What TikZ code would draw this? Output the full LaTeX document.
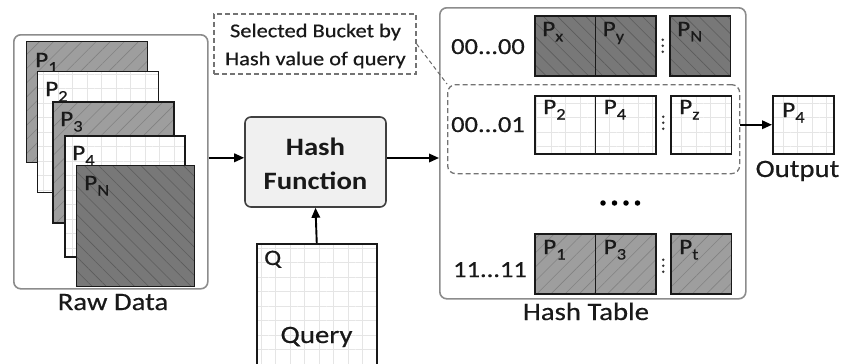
\documentclass[tikz,border=0pt]{standalone}
\usepackage{fontspec}
\setmainfont{Carlito}[FakeStretch=1.15, UprightFeatures={FakeBold=0.5}]
\usetikzlibrary{arrows.meta,patterns.meta,calc}

% text sizes
\newcommand\bigtxt{\fontsize{25}{30}\selectfont}
\newcommand\rowtxt{\fontsize{23}{28}\selectfont}
\newcommand\notetxt{\fontsize{19.5}{28}\selectfont}
\newcommand\ptxt{\fontsize{22}{26}\selectfont}
\newcommand\pg[1]{P\raisebox{-5.5pt}{\fontsize{16}{16}\selectfont #1}}

\tikzset{
  groupbox/.style={draw=black!45, line width=1.6pt, rounded corners=7pt, fill=white, anchor=north west, inner sep=0pt},
  pagebox/.style={draw=black!90, line width=1.5pt, anchor=north west, inner sep=0pt},
  lightpage/.style={pagebox, preaction={fill=white}, pattern={Hatch[angle=0,distance=14.5pt,line width=0.5pt]}, pattern color=black!10},
  graypage/.style={pagebox, preaction={fill=black!38}, pattern={Lines[angle=45,distance=10pt,line width=0.6pt]}, pattern color=black!49},
  darkpage/.style={pagebox, preaction={fill=black!53}, pattern={Lines[angle=-45,distance=10pt,line width=0.6pt]}, pattern color=black!64},
  plabel/.style={anchor=base west, inner sep=0pt, font=\ptxt, text=black!90},
  txt/.style={inner sep=0pt, text=black!90},
  arr/.style={line width=1.9pt, -{Triangle[length=10pt,width=8.5pt]}},
  dashbox/.style={draw=black!55, line width=1.3pt, dash pattern=on 5pt off 3pt},
  vdot/.style={circle, fill=black!80, inner sep=0pt, minimum size=2.6pt},
  bdot/.style={circle, fill=black, inner sep=0pt, minimum size=5.5pt},
}

\begin{document}
\begin{tikzpicture}[x=1pt,y=-1pt]
\useasboundingbox (0,0) rectangle (844,364);
\clip (0,0) rectangle (844,364);

% ---------- raw data stack ----------
\node[groupbox, minimum width=194pt, minimum height=254pt] (raw) at (13,34) {};
\node[graypage, minimum width=121pt, minimum height=121pt] (p1) at (26,41) {};
\node[plabel] (p1l) at ($(p1.north west)+(9,26)$) {\pg{1}};
\node[lightpage, minimum width=121pt, minimum height=121pt] (p2) at (37,71) {};
\node[plabel] (p2l) at ($(p2.north west)+(8,25)$) {\pg{2}};
\node[graypage, minimum width=121pt, minimum height=121pt] (p3) at (52,101) {};
\node[plabel] (p3l) at ($(p3.north west)+(8,25)$) {\pg{3}};
\node[lightpage, minimum width=120pt, minimum height=121pt] (p4) at (64,135) {};
\node[plabel] (p4l) at ($(p4.north west)+(8,25)$) {\pg{4}};
\node[darkpage, minimum width=118pt, minimum height=121pt] (pn) at (76,165) {};
\node[plabel] (pnl) at ($(pn.north west)+(8,25)$) {\pg{N}};
\node[txt, anchor=base, font=\bigtxt] (rawl) at (113,310) {Raw Data};

% ---------- hash function and query ----------
\node[draw=black!75, line width=1.6pt, rounded corners=6pt, fill=black!6,
      minimum width=141pt, minimum height=90pt, inner sep=0pt] (hash) at (315.5,162) {};
\node[txt, align=center, font=\bigtxt\bfseries] (hashl) at (315.5,164) {Hash\\[4pt]Function};

\node[lightpage, minimum width=120pt, minimum height=125pt] (query) at (256,243) {};
\node[txt, anchor=base west, font=\ptxt] (ql) at ($(query.north west)+(8,22)$) {Q};
\node[txt, anchor=base, font=\bigtxt] (queryl) at (316.5,343) {Query};

% ---------- callout ----------
\node[dashbox, fill=white, minimum width=202pt, minimum height=60pt, inner sep=0pt] (note) at (315,44) {};
\node[txt, align=center, font=\notetxt] (notel) at (315.5,46) {Selected Bucket by\\Hash value of query};

% ---------- hash table ----------
\node[groupbox, minimum width=306pt, minimum height=291pt] (table) at (439,7) {};
\node[txt, anchor=base, font=\bigtxt] (tablel) at (586,320) {Hash Table};

% bucket 00...00
\node[txt, anchor=base, font=\rowtxt] (k1) at (488,54) {00...00};
\node[darkpage, minimum width=60.5pt, minimum height=60pt] (a1) at (534,15) {};
\node[plabel] at ($(a1.north west)+(8,21)$) {\pg{x}};
\node[darkpage, minimum width=60.5pt, minimum height=60pt] (a2) at (594.5,15) {};
\node[plabel] at ($(a2.north west)+(8,21)$) {\pg{y}};
\node[darkpage, minimum width=60.5pt, minimum height=60pt] (a3) at (669,15) {};
\node[plabel] at ($(a3.north west)+(8,21)$) {\pg{N}};
\foreach \d in {-6,0,6} \node[vdot] at ($(a2.east)!0.5!(a3.west)+(0,\d)$) {};

% bucket 00...01 (selected)
\node[dashbox, rounded corners=8pt, minimum width=292pt, minimum height=89pt, anchor=north west] (bucket) at (447,84) {};
\node[txt, anchor=base, font=\rowtxt] (k2) at (488,132) {00...01};
\node[lightpage, minimum width=60.5pt, minimum height=58pt] (b1) at (534,95) {};
\node[plabel] at ($(b1.north west)+(9,19)$) {\pg{2}};
\node[lightpage, minimum width=60.5pt, minimum height=58pt] (b2) at (594.5,95) {};
\node[plabel] at ($(b2.north west)+(9,19)$) {\pg{4}};
\node[lightpage, minimum width=60.5pt, minimum height=58pt] (b3) at (670,95) {};
\node[plabel] at ($(b3.north west)+(9,19)$) {\pg{z}};
\foreach \d in {-6,0,6} \node[vdot] at ($(b2.east)!0.5!(b3.west)+(0,\d-2)$) {};

% more buckets
\foreach \x in {603,614.5,626,637.5} \node[bdot] at (\x,203) {};

% bucket 11...11
\node[txt, anchor=base, font=\rowtxt] (k3) at (490,277) {11...11};
\node[graypage, minimum width=60.5pt, minimum height=60pt] (c1) at (534,233) {};
\node[plabel] at ($(c1.north west)+(9,21)$) {\pg{1}};
\node[graypage, minimum width=60.5pt, minimum height=60pt] (c2) at (594.5,233) {};
\node[plabel] at ($(c2.north west)+(9,21)$) {\pg{3}};
\node[graypage, minimum width=60.5pt, minimum height=60pt] (c3) at (670,233) {};
\node[plabel] at ($(c3.north west)+(9,21)$) {\pg{t}};
\foreach \d in {-6,0,6} \node[vdot] at ($(c2.east)!0.5!(c3.west)+(0,\d+2)$) {};

% ---------- output ----------
\node[lightpage, minimum width=61pt, minimum height=58pt] (out) at (772,95) {};
\node[plabel] at ($(out.north west)+(10,22)$) {\pg{4}};
\node[txt, anchor=base, font=\bigtxt] (outl) at (797.5,177) {Output};

% ---------- connectors ----------
\draw[arr] ([yshift=4pt]raw.east) -- ([yshift=4pt]raw.east -| hash.west);
\draw[arr] ([yshift=4pt]hash.east) -- ([yshift=4pt]hash.east -| table.west);
\draw[arr] (query.north) -- (hash.south);
\draw[arr] (bucket.east |- out.west) -- (out.west);
\draw[draw=black!60, line width=1pt, dash pattern=on 4pt off 3pt] (note.east) -- (bucket.north west);
\end{tikzpicture}
\end{document}
